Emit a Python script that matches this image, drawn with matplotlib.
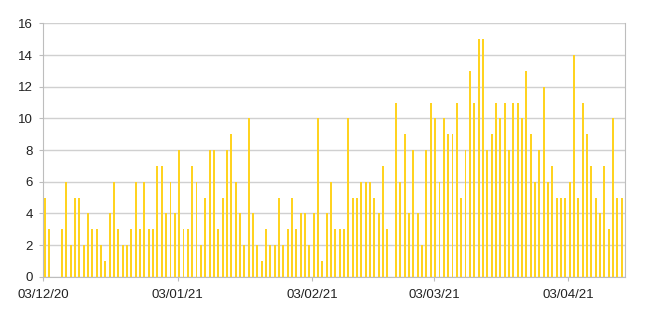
import matplotlib
matplotlib.use("Agg")
import matplotlib.pyplot as plt
import numpy as np

# daily counts, one per day from 03/12/20
counts = [5, 3, 0, 0, 3, 6, 2, 5, 5, 2, 4, 3, 3, 2, 1, 4, 6, 3, 2, 2,
          3, 6, 3, 6, 3, 3, 7, 7, 4, 6, 4, 8, 3, 3, 7, 6, 2, 5, 8, 8,
          3, 5, 8, 9, 6, 4, 2, 10, 4, 2, 1, 3, 2, 2, 5, 2, 3, 5, 3, 4,
          4, 2, 4, 10, 1, 4, 6, 3, 3, 3, 10, 5, 5, 6, 6, 6, 5, 4, 7, 3,
          0, 11, 6, 9, 4, 8, 4, 2, 8, 11, 10, 6, 10, 9, 9, 11, 5, 8, 13, 11,
          15, 15, 8, 9, 11, 10, 11, 8, 11, 11, 10, 13, 9, 6, 8, 12, 6, 7, 5, 5,
          5, 6, 14, 5, 11, 9, 7, 5, 4, 7, 3, 10, 5, 5]
tick_days = [0, 31, 62, 90, 121]
tick_labels = ["03/12/20", "03/01/21", "03/02/21", "03/03/21", "03/04/21"]

plt.rcParams['font.family'] = ['Liberation Sans', 'DejaVu Sans']

fig = plt.figure(figsize=(6.5, 3.16), dpi=100)
ax = fig.add_axes([0.0657, 0.1244, 0.8958, 0.8016])

days = np.arange(len(counts))
ax.bar(days + 0.3, counts, width=0.45, color='#FFD320', zorder=3)

ax.set_xlim(-0.15, len(counts) + 0.05)
ax.set_ylim(0, 16)
ax.set_yticks(range(0, 17, 2))
ax.set_xticks(tick_days)
ax.set_xticklabels(tick_labels)

ax.grid(axis='y', color='#d0d0d0', linewidth=1, zorder=0)
for side in ['left', 'right', 'bottom']:
    ax.spines[side].set_color('#bdbdbd')
ax.spines['top'].set_visible(False)

ax.tick_params(axis='both', colors='#bdbdbd', labelcolor='#222222', labelsize=9.5, length=3)
ax.tick_params(axis='x', pad=6)
ax.tick_params(axis='y', pad=4)

fig.savefig('out.png', dpi=100)
